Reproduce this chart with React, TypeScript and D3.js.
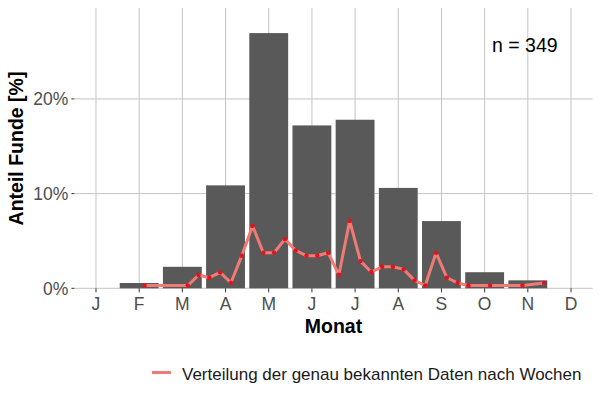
import React from "react";
import * as d3 from "d3";

const months = ["J", "F", "M", "A", "M", "J", "J", "A", "S", "O", "N", "D"];
const monthShare = [0, 0.56, 2.27, 10.87, 26.95, 17.2, 17.8, 10.6, 7.1, 1.7, 0.84, 0];
const weeks = [8, 12, 13, 14, 15, 16, 17, 18, 19, 20, 21, 22, 23, 24, 25, 26, 27, 28, 29, 30, 31, 32, 33, 34, 35, 36, 37, 38, 40, 43, 45];
const weekShare = [0.29, 0.29, 1.4, 1.12, 1.68, 0.59, 3.43, 6.59, 3.75, 3.75, 5.19, 4.0, 3.43, 3.43, 3.75, 1.43, 7.12, 2.87, 1.72, 2.27, 2.27, 2.0, 0.84, 0.29, 3.75, 1.12, 0.56, 0.29, 0.29, 0.29, 0.57];
const yTicks = [0, 10, 20];
const nLabel = "n = 349";
const legendLabel = "Verteilung der genau bekannten Daten nach Wochen";

export default function App() {
  const W = 600, H = 400;
  const left = 74.4, right = 592.6, top = 8, bottom = 288.3;
  const x = d3.scaleLinear().domain([0.5, 12.5]).range([left, right]);
  const y = d3.scaleLinear().domain([0, 29.6]).range([bottom, top]);
  const step = x(2) - x(1);
  const barW = step * 0.9;
  const pts = weeks.map((w, i) => ({ m: (w + 0.5) / 4, v: weekShare[i] }));
  const line = d3.line<{ m: number; v: number }>().x(d => x(d.m)).y(d => y(d.v));
  const grid = "#c4c4c4";
  const font = "Liberation Sans, Arial, sans-serif";
  return (
    <svg width={W} height={H} style={{ display: "block", position: "absolute", left: 0, top: 0 }} fontFamily={font}>
      <rect width={W} height={H} fill="#fff" />
      {yTicks.map(t => (
        <line key={"gy" + t} x1={left} x2={right} y1={y(t)} y2={y(t)} stroke={grid} strokeWidth={1} />
      ))}
      {months.map((m, i) => (
        <line key={"gx" + i} x1={x(i + 1)} x2={x(i + 1)} y1={top} y2={bottom} stroke={grid} strokeWidth={1} />
      ))}
      {monthShare.map((v, i) => v > 0 && (
        <rect key={"b" + i} x={x(i + 1) - barW / 2} width={barW} y={y(v)} height={y(0) - y(v)} fill="#595959" />
      ))}
      <path d={line(pts) || ""} fill="none" stroke="#f07a74" strokeWidth={3} strokeLinejoin="round" />
      {pts.map((p, i) => (
        <circle key={"p" + i} cx={x(p.m)} cy={y(p.v)} r={2.2} fill="#e8101c" />
      ))}
      {yTicks.map(t => (
        <g key={"ty" + t}>
          <line x1={left - 3} x2={left} y1={y(t)} y2={y(t)} stroke="#333" strokeWidth={1} />
          <text x={left - 6} y={y(t)} dy="0.36em" textAnchor="end" fontSize={17.5} fill="#4d4d4d">{t + "%"}</text>
        </g>
      ))}
      {months.map((m, i) => (
        <g key={"tx" + i}>
          <line x1={x(i + 1)} x2={x(i + 1)} y1={bottom} y2={bottom + 4} stroke="#333" strokeWidth={1} />
          <text x={x(i + 1)} y={bottom + 22} textAnchor="middle" fontSize={17.5} fill="#4d4d4d">{m}</text>
        </g>
      ))}
      <text x={(left + right) / 2} y={333} textAnchor="middle" fontSize={19.5} fontWeight="bold" fill="#000">Monat</text>
      <text transform={`translate(23,148.5) rotate(-90)`} textAnchor="middle" fontSize={19.5} fontWeight="bold" fill="#000">Anteil Funde [%]</text>
      <text x={492} y={51.5} fontSize={19.5} fill="#000">{nLabel}</text>
      <line x1={152} x2={171} y1={372.5} y2={372.5} stroke="#f07a74" strokeWidth={3} />
      <text x={182} y={380} fontSize={17} fill="#1a1a1a">{legendLabel}</text>
    </svg>
  );
}
